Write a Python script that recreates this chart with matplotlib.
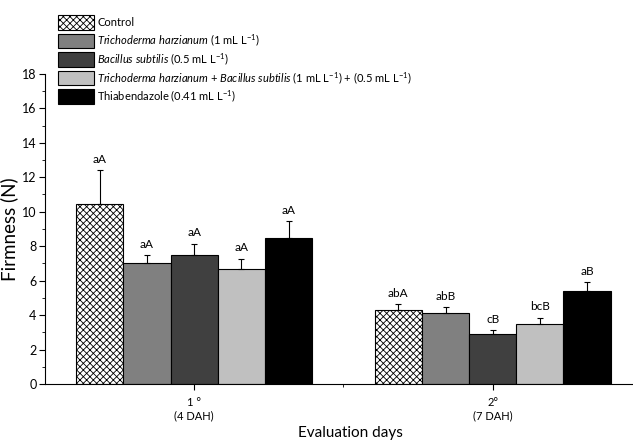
import matplotlib.pyplot as plt
import numpy as np

plt.rcParams['font.family'] = ['Lato', 'DejaVu Sans']
plt.rcParams['mathtext.fontset'] = 'custom'
plt.rcParams['mathtext.it'] = 'Lato:italic'
plt.rcParams['mathtext.rm'] = 'Lato'
plt.rcParams['hatch.linewidth'] = 0.6

# data
days = ['1 °\n(4 DAH)', '2°\n(7 DAH)']
treatments = [
    'Control',
    r'$\it{Trichoderma\ harzianum}$ (1 mL L$^{-1}$)',
    r'$\it{Bacillus\ subtilis}$ (0.5 mL L$^{-1}$)',
    r'$\it{Trichoderma\ harzianum}$ + $\it{Bacillus\ subtilis}$ (1 mL L$^{-1}$) + (0.5 mL L$^{-1}$)',
    r'Thiabendazole (0.41 mL L$^{-1}$)',
]
firmness = [
    [10.45, 4.3],
    [7.05, 4.15],
    [7.5, 2.9],
    [6.7, 3.5],
    [8.5, 5.4],
]
errors = [
    [1.95, 0.33],
    [0.43, 0.3],
    [0.65, 0.22],
    [0.58, 0.36],
    [0.97, 0.5],
]
letters = [
    ['aA', 'abA'],
    ['aA', 'abB'],
    ['aA', 'cB'],
    ['aA', 'bcB'],
    ['aA', 'aB'],
]
colors = ['white', '#808080', '#404040', '#c0c0c0', 'black']
hatches = ['xxxxx', None, None, None, None]

fig = plt.figure(figsize=(6.33, 4.42), dpi=100)
ax = fig.add_axes([0.071, 0.131, 0.929, 0.702])

x = np.array([1, 2])
width = 0.158
handles = []
for i in range(5):
    pos = x + (i - 2) * width
    b = ax.bar(pos, firmness[i], width, color=colors[i], edgecolor='black',
               linewidth=0.8, hatch=hatches[i], label=treatments[i])
    ax.errorbar(pos, firmness[i], yerr=[[0, 0], errors[i]], fmt='none',
                ecolor='black', elinewidth=0.8, capsize=2.5, capthick=0.8)
    for p, v, e, t in zip(pos, firmness[i], errors[i], letters[i]):
        ax.text(p, v + e + 0.3, t, ha='center', va='bottom', fontsize=8.5)
    handles.append(b)

ax.set_xlim(0.5, 2.47)
ax.set_ylim(0, 18)
ax.set_yticks(np.arange(0, 19, 2))
ax.set_yticks(np.arange(1, 18, 2), minor=True)
ax.set_xticks(x)
ax.set_xticklabels(days, fontsize=8, linespacing=1.3)
ax.set_xticks([1.5], minor=True)
ax.tick_params(axis='y', labelsize=9, direction='out', length=4, pad=2)
ax.tick_params(axis='y', which='minor', length=2)
ax.tick_params(axis='x', direction='out', length=4, pad=5)
ax.tick_params(axis='x', which='minor', length=2)
ax.spines['top'].set_visible(False)
ax.spines['right'].set_visible(False)
ax.set_ylabel('Firmness (N)', fontsize=13.5)
ax.yaxis.set_label_coords(-0.046, 0.5)
ax.set_xlabel('Evaluation days', fontsize=11)
ax.xaxis.set_label_coords(0.52, -0.135)

fig.legend(handles=handles, loc='upper left', bbox_to_anchor=(0.085, 0.975),
           frameon=False, fontsize=8, handlelength=3.2, handleheight=1.6,
           labelspacing=0.25, handletextpad=0.3, borderaxespad=0)

fig.savefig('out.png', dpi=100)
